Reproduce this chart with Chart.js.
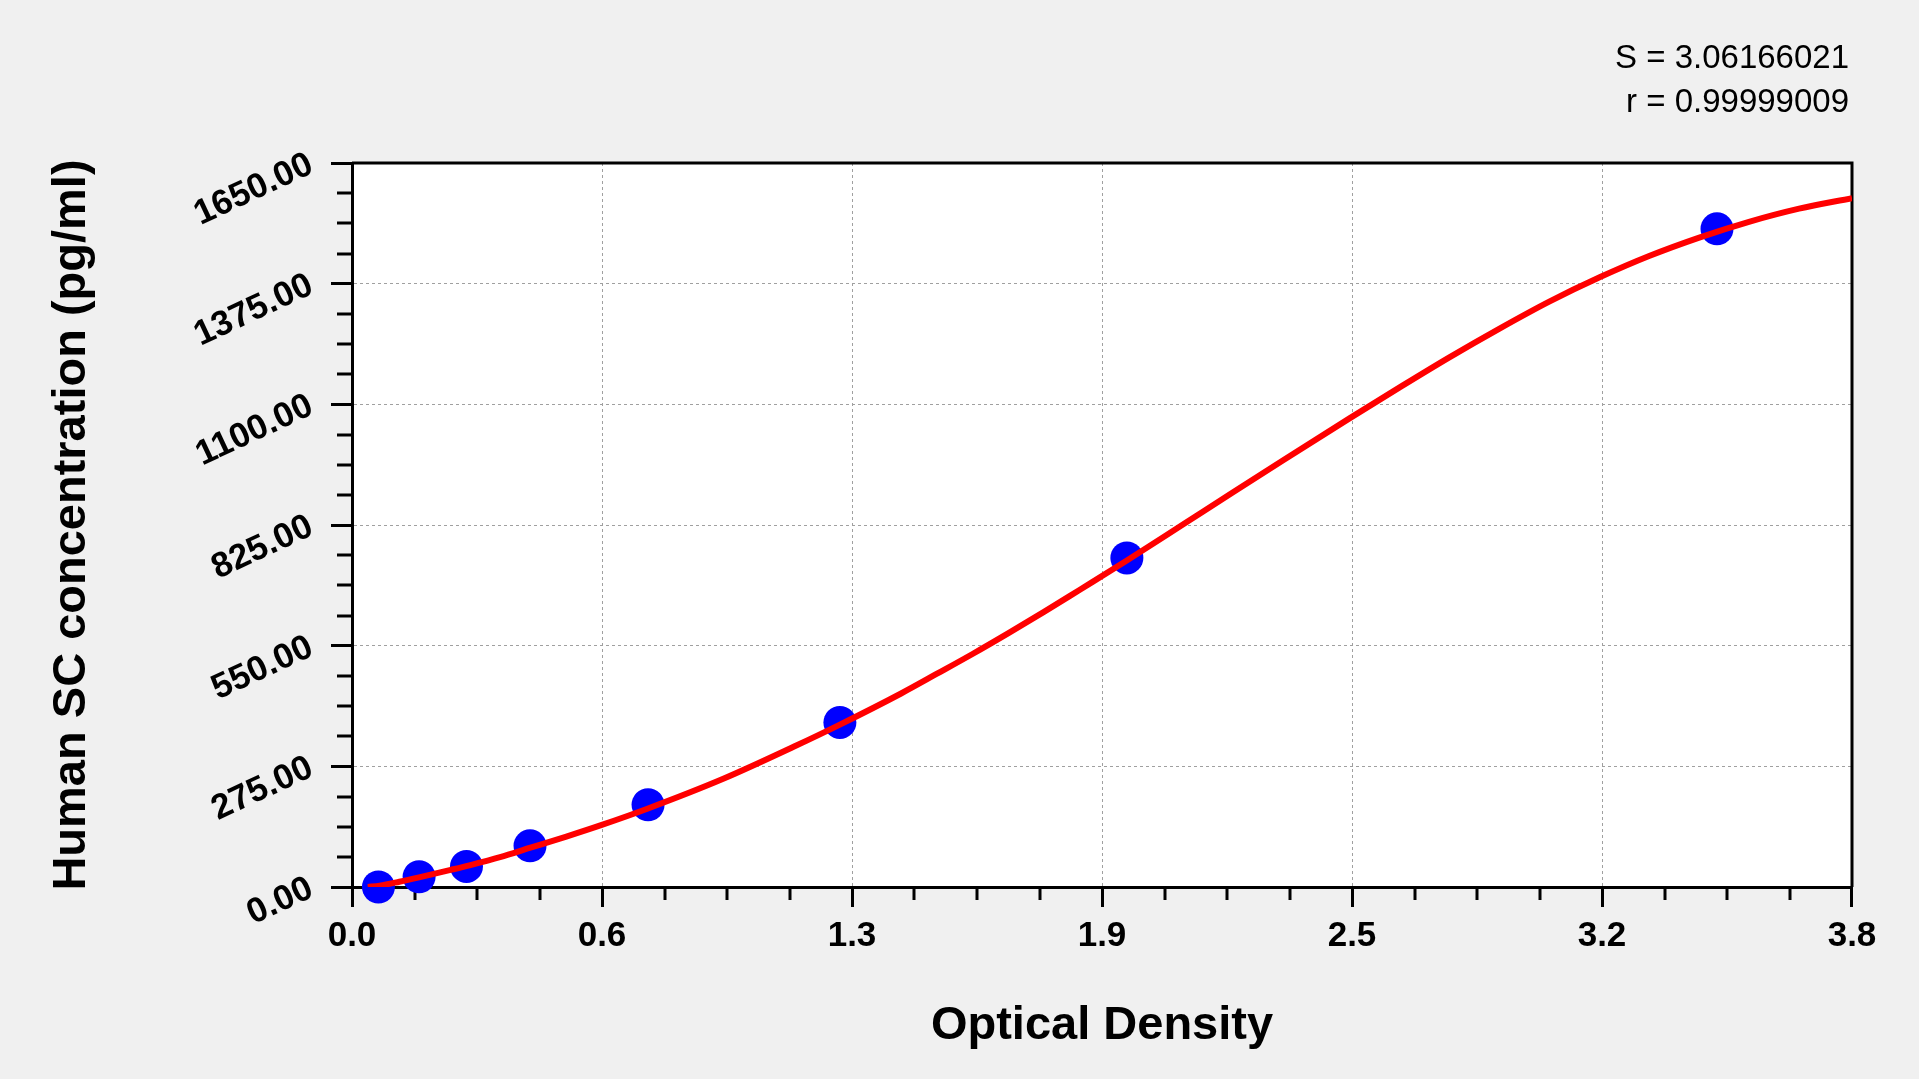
<!DOCTYPE html>
<html>
<head>
<meta charset="utf-8">
<title>Human SC standard curve</title>
<script src="https://cdn.jsdelivr.net/npm/chart.js@4.4.1/dist/chart.umd.min.js"></script>
<style>
  html, body { margin: 0; padding: 0; background: #f0f0f0; overflow: hidden; }
  canvas { display: block; }
</style>
</head>
<body>
<canvas id="curve_chart" width="1919" height="1079"></canvas>
<script>
// standards (optical density -> concentration)
const std_od = [0.067, 0.170, 0.290, 0.451, 0.750, 1.236, 1.963, 3.458];
const std_conc = [0, 23.44, 46.88, 93.75, 187.5, 375, 750, 1500];

// fitted curve
const fit_od = [0.04, 0.07, 0.12, 0.17, 0.25, 0.30, 0.375, 0.45, 0.543, 0.631, 0.75,
    0.939, 1.12, 1.236, 1.391, 1.482, 1.572, 1.662, 1.753, 1.843, 1.963, 2.105,
    2.231, 2.358, 2.527, 2.653, 2.78, 2.906, 3.033, 3.162, 3.286, 3.413, 3.539, 3.666, 3.8];
const fit_conc = [0, 3, 12, 22, 39, 50, 68, 89, 115, 141, 179,
    246, 320, 370, 441, 486, 531, 578, 627, 677, 744, 826,
    899, 972, 1068, 1138, 1207, 1272, 1334, 1390, 1438, 1480, 1516, 1546, 1570];

// axes
const x_tick_labels = ["0.0", "0.6", "1.3", "1.9", "2.5", "3.2", "3.8"];
const y_tick_labels = ["0.00", "275.00", "550.00", "825.00", "1100.00", "1375.00", "1650.00"];
const x_max = 3.8;
const y_max = 1650;
const fit_stats = ["S = 3.06166021", "r = 0.99999009"];

Chart.defaults.font.family = "'Liberation Sans', Arial, sans-serif";
Chart.defaults.color = "#000000";

// white plot area behind everything
const plot_background = {
    id: "plot_background",
    beforeDraw(chart) {
        const { ctx, chartArea: a } = chart;
        ctx.save();
        ctx.fillStyle = "#ffffff";
        ctx.fillRect(a.left, a.top, a.right - a.left, a.bottom - a.top);
        ctx.restore();
    }
};

// top/right frame, minor ticks, fit statistics
const frame_and_minor = {
    id: "frame_and_minor",
    beforeDatasetsDraw(chart) {
        const { ctx, chartArea: a, scales } = chart;
        ctx.save();
        ctx.strokeStyle = "#000000";
        ctx.lineWidth = 3;
        ctx.beginPath();
        ctx.moveTo(a.left, a.top);
        ctx.lineTo(a.right + 1.5, a.top);
        ctx.moveTo(a.right, a.top);
        ctx.lineTo(a.right, a.bottom);
        const x_step = x_max / (x_tick_labels.length - 1);
        for (let i = 0; i < x_tick_labels.length - 1; i++) {
            for (let k = 1; k < 4; k++) {
                const px = Math.round(scales.x.getPixelForValue(x_step * (i + k / 4)));
                ctx.moveTo(px, a.bottom);
                ctx.lineTo(px, a.bottom + 13);
            }
        }
        const y_step = y_max / (y_tick_labels.length - 1);
        for (let i = 0; i < y_tick_labels.length - 1; i++) {
            for (let k = 1; k < 4; k++) {
                const py = Math.round(scales.y.getPixelForValue(y_step * (i + k / 4)));
                ctx.moveTo(a.left - 15, py);
                ctx.lineTo(a.left, py);
            }
        }
        ctx.stroke();
        ctx.restore();
    },
    afterDraw(chart) {
        const { ctx, chartArea: a } = chart;
        ctx.save();
        ctx.fillStyle = "#000000";
        ctx.font = "33px 'Liberation Sans', Arial, sans-serif";
        ctx.textAlign = "right";
        ctx.textBaseline = "alphabetic";
        ctx.fillText(fit_stats[0], a.right - 3, 68);
        ctx.fillText(fit_stats[1], a.right - 3, 112);
        ctx.restore();
    }
};

const curve_chart = new Chart("curve_chart", {
    type: "scatter",
    data: {
        datasets: [{
            label: "fit",
            showLine: true,
            data: fit_od.map((od, i) => ({ x: od, y: fit_conc[i] })),
            borderColor: "#ff0000",
            borderWidth: 6,
            pointRadius: 0,
            cubicInterpolationMode: "monotone",
            fill: false,
            order: 0
        }, {
            label: "standards",
            data: std_od.map((od, i) => ({ x: od, y: std_conc[i] })),
            backgroundColor: "#0000ff",
            borderWidth: 0,
            pointRadius: 16.5,
            pointHoverRadius: 16.5,
            clip: false,
            order: 1
        }]
    },
    options: {
        responsive: false,
        devicePixelRatio: 1,
        animation: false,
        events: [],
        layout: { padding: { top: 163, right: 67, bottom: 0, left: 0 } },
        plugins: {
            legend: { display: false },
            tooltip: { enabled: false }
        },
        scales: {
            x: {
                type: "linear",
                min: 0,
                max: x_max,
                afterBuildTicks: (scale) => {
                    scale.ticks = x_tick_labels.map((_, i) => ({ value: x_max * i / (x_tick_labels.length - 1) }));
                },
                afterFit: (scale) => { scale.height = 192; },
                ticks: {
                    autoSkip: false,
                    maxRotation: 0,
                    padding: 8,
                    font: { size: 35, weight: "bold" },
                    callback: (value, index) => x_tick_labels[index]
                },
                grid: {
                    color: "#a0a0a0",
                    lineWidth: 1,
                    tickColor: "#000000",
                    tickWidth: 3,
                    tickLength: 20
                },
                border: { color: "#000000", width: 3, dash: [3, 3] },
                title: {
                    display: true,
                    text: "Optical Density",
                    font: { size: 47, weight: "bold" },
                    padding: { top: 0, bottom: 25 }
                }
            },
            y: {
                type: "linear",
                min: 0,
                max: y_max,
                afterBuildTicks: (scale) => {
                    scale.ticks = y_tick_labels.map((_, i) => ({ value: y_max * i / (y_tick_labels.length - 1) }));
                },
                afterFit: (scale) => { scale.width = 352; },
                ticks: {
                    autoSkip: false,
                    minRotation: 25,
                    maxRotation: 25,
                    padding: 20,
                    font: { size: 35, weight: "bold" },
                    callback: (value, index) => y_tick_labels[index]
                },
                grid: {
                    color: "#a0a0a0",
                    lineWidth: 1,
                    tickColor: "#000000",
                    tickWidth: 3,
                    tickLength: 21
                },
                border: { color: "#000000", width: 3, dash: [3, 3] },
                title: {
                    display: true,
                    text: "Human SC concentration (pg/ml)",
                    font: { size: 47, weight: "bold" },
                    padding: { top: 44, bottom: 0 }
                }
            }
        }
    },
    plugins: [plot_background, frame_and_minor]
});
</script>
</body>
</html>
